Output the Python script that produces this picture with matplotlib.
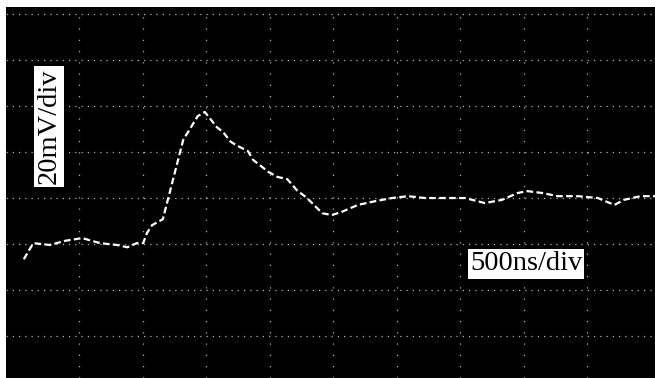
import matplotlib
matplotlib.use("Agg")
import matplotlib.pyplot as plt

# Trace (x in time divisions, y in voltage divisions)
trace_x = [-4.87, -4.72, -4.46, -4.22, -3.95, -3.67, -3.40, -3.24, -3.09, -2.99,
           -2.93, -2.85, -2.68, -2.36, -2.13, -2.02, -1.83, -1.73, -1.61, -1.50,
           -1.34, -1.26, -1.02, -0.88, -0.72, -0.57, -0.41, -0.17, -0.02, 0.14,
           0.39, 0.66, 0.93, 1.18, 1.45, 1.72, 2.08, 2.39, 2.66, 2.91,
           3.06, 3.29, 3.54, 3.86, 4.17, 4.43, 4.58, 4.84, 5.07]
trace_y = [-1.33, -0.98, -1.02, -0.93, -0.87, -0.98, -1.02, -1.07, -0.98, -0.98,
           -0.76, -0.59, -0.46, 1.26, 1.78, 1.87, 1.54, 1.43, 1.22, 1.13,
           1.02, 0.83, 0.57, 0.46, 0.41, 0.17, 0.00, -0.33, -0.37, -0.30,
           -0.15, -0.07, 0.00, 0.04, 0.00, 0.00, 0.00, -0.11, -0.04, 0.11,
           0.15, 0.11, 0.04, 0.04, 0.00, -0.15, -0.04, 0.04, 0.04]

grid_x = [-4, -3, -2, -1, 0, 1, 2, 3, 4]
grid_y = [-3, -2, -1, 0, 1, 2, 3, 4]

volt_label = "20mV/div"
time_label = "500ns/div"

fig = plt.figure(figsize=(6.55, 3.78), dpi=100, facecolor="white")
ax = fig.add_axes([6 / 655, 0, 649 / 655, 371 / 378])
ax.set_facecolor("black")
ax.set_xlim(-5.15, 5.07)
ax.set_ylim(-3.91, 4.15)
for s in ax.spines.values():
    s.set_visible(False)
ax.set_xticks([])
ax.set_yticks([])

for gy in grid_y:
    ax.axhline(gy, color="#d0d0d0", lw=0.9, ls=(0, (1, 4)), alpha=0.85, zorder=1)
for gx in grid_x:
    ax.axvline(gx, color="#d0d0d0", lw=0.9, ls=(0, (1, 8)), alpha=0.85, zorder=1)

ax.plot(trace_x, trace_y, color="white", lw=1.6, ls=(0, (3, 1.5)), zorder=3,
        solid_capstyle="round")

ax.text(49 / 655, 1 - 126.5 / 378, volt_label, transform=fig.transFigure,
        rotation=90, ha="center", va="center", fontsize=20.5,
        family="Liberation Serif", color="black",
        bbox=dict(boxstyle="square,pad=0.08", facecolor="white", edgecolor="none"),
        zorder=5)
ax.text(526 / 655, 1 - 264 / 378, time_label, transform=fig.transFigure,
        ha="center", va="center", fontsize=20.5,
        family="Liberation Serif", color="black",
        bbox=dict(boxstyle="square,pad=0.08", facecolor="white", edgecolor="none"),
        zorder=5)

fig.savefig("out.png", dpi=100, facecolor="white")
